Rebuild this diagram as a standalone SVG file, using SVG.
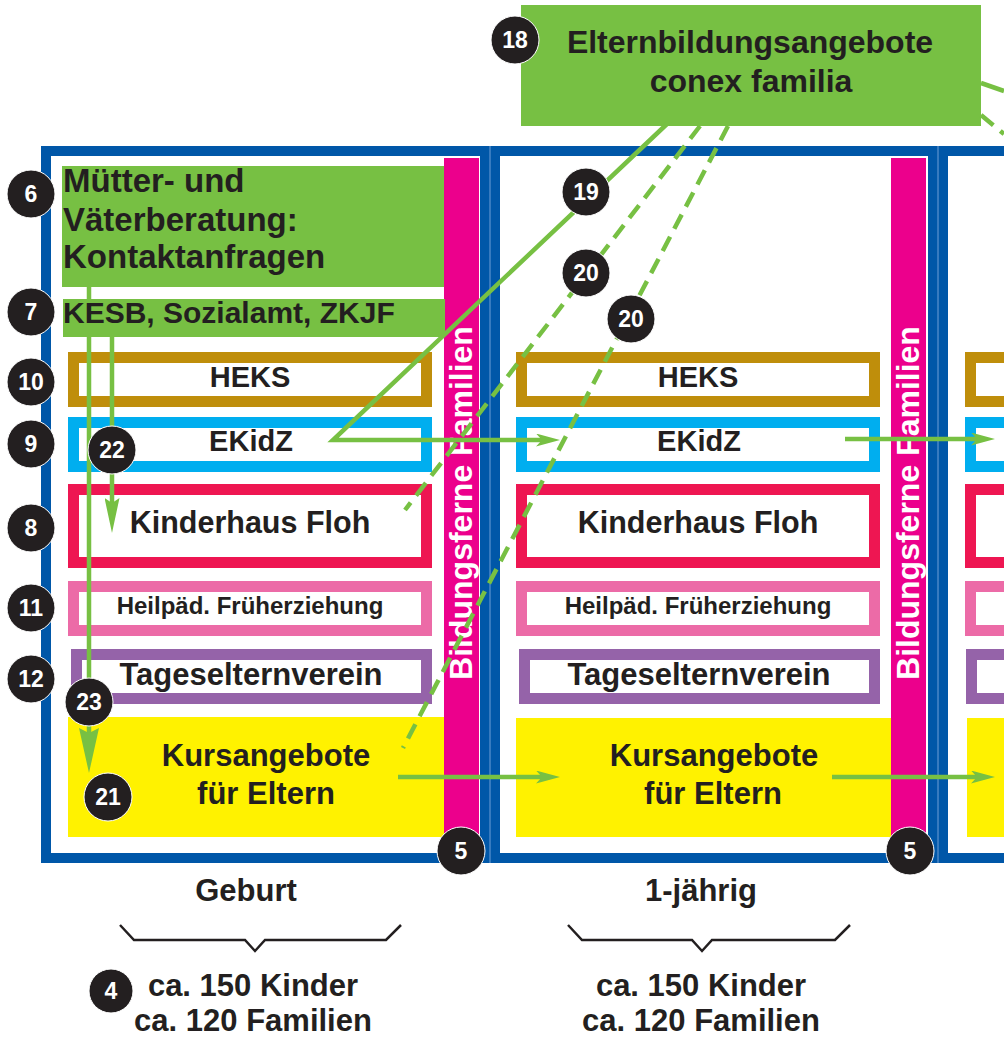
<svg xmlns="http://www.w3.org/2000/svg" width="1004" height="1039" viewBox="0 0 1004 1039">
<style>
text{font-family:"Liberation Sans",Arial,sans-serif;font-weight:bold;fill:#231f20}
.frame{fill:none;stroke:#0057a8;stroke-width:10}
.sep{stroke:#6f9fd6;stroke-width:1}
.mag{fill:#ec008c}
.box{fill:#fff;stroke-width:11}
.heks{stroke:#bf8e0b}.ekidz{stroke:#00aeef}.floh{stroke:#ee1652}.heil{stroke:#ec6ba7}.tage{stroke:#9563a9}
.yel{fill:#fff200}
.grn{fill:#77c043}
.t29{font-size:29px;text-anchor:middle}
.t24{font-size:24px;text-anchor:middle}
.t31{font-size:31px;text-anchor:middle}
.vt{font-size:32px;fill:#fff;text-anchor:middle}
.num circle{fill:#231f20;stroke:#fff;stroke-width:1}
.num text{fill:#fff;font-size:23px;text-anchor:middle}
.ln{fill:none;stroke:#77c043;stroke-width:4.5}
.dash{stroke-dasharray:16 9}
.brace{fill:none;stroke:#231f20;stroke-width:2.5}
</style>
<defs>
<marker id="ah" viewBox="0 0 24 13" refX="12" refY="6.5" markerWidth="24" markerHeight="13" markerUnits="userSpaceOnUse" orient="auto"><path d="M0,0 L24,6.5 L0,13 L6,6.5 Z" fill="#77c043"/></marker>
<marker id="ahB" viewBox="0 0 35 15" refX="17" refY="7.5" markerWidth="35" markerHeight="15" markerUnits="userSpaceOnUse" orient="auto"><path d="M0,0 L35,7.5 L0,15 L5,7.5 Z" fill="#77c043"/></marker>
<marker id="ahA" viewBox="0 0 45 20" refX="22" refY="10" markerWidth="45" markerHeight="20" markerUnits="userSpaceOnUse" orient="auto"><path d="M0,0 L45,10 L0,20 L5,10 Z" fill="#77c043"/></marker>
</defs>
<rect width="1004" height="1039" fill="#fff"/>

<!-- panel frames -->
<g id="panel1">
<rect class="frame" x="46" y="151" width="439" height="707"/>
<rect class="mag" x="444" y="158" width="35" height="680"/>
<text class="vt" transform="translate(472,503) rotate(-90)">Bildungsferne Familien</text>
</g>
<g id="panel2">
<rect class="frame" x="495" y="151" width="438" height="707"/>
<rect class="mag" x="891" y="158" width="35" height="680"/>
<text class="vt" transform="translate(919,503) rotate(-90)">Bildungsferne Familien</text>
</g>
<g id="panel3">
<rect class="frame" x="943" y="151" width="500" height="707"/>
</g>
<line class="sep" x1="490" y1="146" x2="490" y2="863"/>
<line class="sep" x1="938" y1="146" x2="938" y2="863"/>

<!-- panel 1 nodes -->
<g id="n18">
<rect class="grn" x="521" y="5" width="460" height="121"/>
<text class="t31" x="750" y="53" style="font-size:32px">Elternbildungsangebote</text>
<text class="t31" x="751" y="92" style="font-size:32px">conex familia</text>
</g>
<g id="n6">
<rect class="grn" x="62" y="166" width="382" height="121"/>
<text x="63" y="192" style="font-size:33px">Mütter- und</text>
<text x="63" y="231" style="font-size:33px">Väterberatung:</text>
<text x="63" y="268" style="font-size:33px">Kontaktanfragen</text>
</g>
<g id="n7">
<rect class="grn" x="63" y="299" width="382" height="38"/>
<text x="63" y="323" style="font-size:30px">KESB, Sozialamt, ZKJF</text>
</g>
<g id="p1-heks"><rect class="box heks" x="73.5" y="357.5" width="353" height="44"/><text class="t29" x="250" y="387">HEKS</text></g>
<g id="p1-ekidz"><rect class="box ekidz" x="73.5" y="422.5" width="353" height="44"/><text class="t29" x="251" y="451">EKidZ</text></g>
<g id="p1-floh"><rect class="box floh" x="73.5" y="489.5" width="353" height="73"/><text class="t29" x="250" y="533" style="font-size:30.5px">Kinderhaus Floh</text></g>
<g id="p1-heil"><rect class="box heil" x="73.5" y="586.5" width="353" height="44"/><text class="t24" x="250" y="614">Heilpäd. Früherziehung</text></g>
<g id="p1-tage"><rect class="box tage" x="76.5" y="654.5" width="350" height="44"/><text class="t29" x="251" y="685" style="font-size:31px">Tageselternverein</text></g>
<g id="p1-kurs"><rect class="yel" x="68" y="717" width="376" height="120"/><text class="t31" x="266" y="766">Kursangebote</text><text class="t31" x="266" y="804">für Eltern</text></g>

<!-- panel 2 nodes -->
<g id="p2-heks"><rect class="box heks" x="521.5" y="357.5" width="353" height="44"/><text class="t29" x="698" y="387">HEKS</text></g>
<g id="p2-ekidz"><rect class="box ekidz" x="521.5" y="422.5" width="353" height="44"/><text class="t29" x="699" y="451">EKidZ</text></g>
<g id="p2-floh"><rect class="box floh" x="521.5" y="489.5" width="353" height="73"/><text class="t29" x="698" y="533" style="font-size:30.5px">Kinderhaus Floh</text></g>
<g id="p2-heil"><rect class="box heil" x="521.5" y="586.5" width="353" height="44"/><text class="t24" x="698" y="614">Heilpäd. Früherziehung</text></g>
<g id="p2-tage"><rect class="box tage" x="524.5" y="654.5" width="350" height="44"/><text class="t29" x="699" y="685" style="font-size:31px">Tageselternverein</text></g>
<g id="p2-kurs"><rect class="yel" x="516" y="718" width="375" height="119"/><text class="t31" x="714" y="766">Kursangebote</text><text class="t31" x="713" y="804">für Eltern</text></g>

<!-- panel 3 nodes (partly visible) -->
<g id="p3-heks"><rect class="box heks" x="970.5" y="357.5" width="353" height="44"/></g>
<g id="p3-ekidz"><rect class="box ekidz" x="970.5" y="422.5" width="353" height="44"/></g>
<g id="p3-floh"><rect class="box floh" x="970.5" y="489.5" width="353" height="73"/></g>
<g id="p3-heil"><rect class="box heil" x="970.5" y="586.5" width="353" height="44"/></g>
<g id="p3-tage"><rect class="box tage" x="971.5" y="654.5" width="350" height="44"/></g>
<g id="p3-kurs"><rect class="yel" x="967" y="718" width="375" height="119"/></g>

<!-- bottom labels -->
<g id="labels">
<text class="t31" x="246" y="901">Geburt</text>
<text class="t31" x="701" y="901">1-jährig</text>
<path class="brace" d="M120,925 L134,940 L245,940 L255,951 L265,940 L386,940 L401,925"/>
<path class="brace" d="M568,925 L582,940 L692,940 L702,951 L712,940 L835,940 L850,925"/>
<text class="t31" x="253" y="996">ca. 150 Kinder</text>
<text class="t31" x="253" y="1031">ca. 120 Familien</text>
<text class="t31" x="701" y="996">ca. 150 Kinder</text>
<text class="t31" x="701" y="1031">ca. 120 Familien</text>
</g>

<!-- connectors -->
<g id="connectors">
<path class="ln" d="M668,123 L333,440 L548,440" marker-end="url(#ah)"/>
<path class="ln" d="M845,439 L983,439" marker-end="url(#ah)"/>
<path class="ln" d="M398,777 L548,777" marker-end="url(#ah)"/>
<path class="ln" d="M832,777 L983,777" marker-end="url(#ah)"/>
<path class="ln dash" d="M700,126 L405,510"/>
<path class="ln dash" d="M728,126 L403,748"/>
<path class="ln" d="M981,83 L1004,91"/>
<path class="ln dash" d="M981,115 L1004,134"/>
<path class="ln" d="M112,337 L112,515" marker-end="url(#ahB)"/>
<path class="ln" d="M89,287 L89,299 M89,337 L89,750" marker-end="url(#ahA)"/>
</g>

<!-- number badges -->
<g id="badges" class="num">
<g><circle cx="515" cy="40" r="24"/><text x="515" y="48">18</text></g>
<g><circle cx="31" cy="194" r="24"/><text x="31" y="202">6</text></g>
<g><circle cx="31" cy="312" r="24"/><text x="31" y="320">7</text></g>
<g><circle cx="31" cy="382" r="24"/><text x="31" y="390">10</text></g>
<g><circle cx="31" cy="444" r="24"/><text x="31" y="452">9</text></g>
<g><circle cx="31" cy="528" r="24"/><text x="31" y="536">8</text></g>
<g><circle cx="31" cy="608" r="24"/><text x="31" y="616">11</text></g>
<g><circle cx="31" cy="679" r="24"/><text x="31" y="687">12</text></g>
<g><circle cx="112" cy="450" r="24"/><text x="112" y="458">22</text></g>
<g><circle cx="89" cy="702" r="24"/><text x="89" y="710">23</text></g>
<g><circle cx="108" cy="797" r="24"/><text x="108" y="805">21</text></g>
<g><circle cx="586" cy="192" r="24"/><text x="586" y="200">19</text></g>
<g><circle cx="586" cy="273" r="24"/><text x="586" y="281">20</text></g>
<g><circle cx="631" cy="319" r="24"/><text x="631" y="327">20</text></g>
<g><circle cx="461" cy="851" r="24"/><text x="461" y="859">5</text></g>
<g><circle cx="910" cy="851" r="24"/><text x="910" y="859">5</text></g>
<g><circle cx="111" cy="991" r="22"/><text x="111" y="999">4</text></g>
</g>
</svg>
